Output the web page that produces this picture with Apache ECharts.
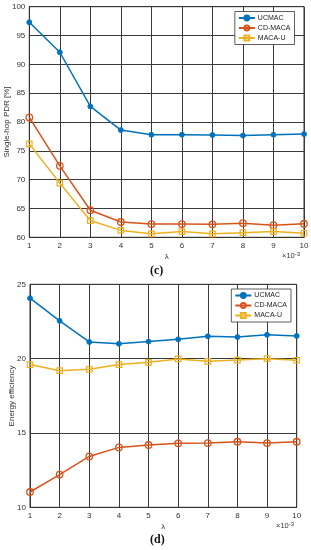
<!DOCTYPE html>
<html><head><meta charset="utf-8">
<script src="https://cdn.jsdelivr.net/npm/echarts@6/dist/echarts.min.js"></script>
<style>html,body{margin:0;padding:0;background:#fff}#c{width:311px;height:550px}</style>
</head><body><div id="c"></div>
<script>
const lambdas = [1,2,3,4,5,6,7,8,9,10];
const seriesNames = ['UCMAC','CD-MACA','MACA-U'];
const pdrUCMAC = [97.3,92.1,82.7,78.6,77.8,77.8,77.75,77.65,77.8,77.9];
const pdrCDMACA = [80.8,72.4,64.7,62.65,62.3,62.3,62.25,62.45,62.1,62.35];
const pdrMACAU = [76.2,69.4,62.9,61.2,60.6,61.0,60.6,60.8,61.0,60.7];
const eeUCMAC = [24.07,22.54,21.12,21.0,21.15,21.3,21.5,21.45,21.6,21.53];
const eeCDMACA = [11.03,12.2,13.42,14.03,14.19,14.3,14.32,14.41,14.32,14.41];
const eeMACAU = [19.6,19.19,19.28,19.6,19.75,19.98,19.82,19.9,20.0,19.89];
const pdrTicks = [60,65,70,75,80,85,90,95,100];
const eeTicks = [10,15,20,25];

const colors = {'UCMAC':'#0072BD','CD-MACA':'#D95319','MACA-U':'#EDB120'};
const font = 'Liberation Sans, Arial, sans-serif';

function pair(arr){ return lambdas.map((x,i)=>[x,arr[i]]); }
function mk(name, data, idx){
  const c = colors[name];
  const base = {name, type:'line', xAxisIndex:idx, yAxisIndex:idx, data:pair(data),
    lineStyle:{color:c,width:1.5}, emphasis:{disabled:true}, animation:false, z:3};
  if(name==='UCMAC'){
    return Object.assign(base,{symbol:'circle',symbolSize:5,itemStyle:{color:c,borderColor:c,borderWidth:0.8}});
  } else if(name==='CD-MACA'){
    return Object.assign(base,{symbol:'circle',symbolSize:6.5,itemStyle:{color:'rgba(255,255,255,0)',borderColor:c,borderWidth:1.3}});
  } else {
    return Object.assign(base,{symbol:'rect',symbolSize:5.5,itemStyle:{color:'rgba(255,255,255,0)',borderColor:c,borderWidth:1.2}});
  }
}
function xAx(idx){
  return {type:'value', gridIndex:idx, min:1, max:10, interval:1,
    name:'λ', nameLocation:'middle', nameGap:15, nameTextStyle:{fontSize:8,color:'#333',fontFamily:font},
    axisLine:{show:true,lineStyle:{color:'#333',width:1}}, axisTick:{show:false},
    axisLabel:{fontSize:8,color:'#333',margin:4,fontFamily:font},
    splitLine:{show:true,lineStyle:{color:'#3a3a3a',width:1}}};
}
function yAx(idx,min,max){
  return {type:'value', gridIndex:idx, min, max, interval:5,
    axisLine:{show:true,lineStyle:{color:'#333',width:1}}, axisTick:{show:false},
    axisLabel:{fontSize:8,color:'#333',margin:4,fontFamily:font},
    splitLine:{show:true,lineStyle:{color:'#3a3a3a',width:1}}};
}
function lg(top,right){
  return {orient:'vertical', top, right, data:seriesNames, itemWidth:16, itemHeight:6, itemGap:3,
    padding:[3,4,3,3], backgroundColor:'#fff', borderColor:'#333', borderWidth:0.8, borderRadius:0,
    textStyle:{fontSize:7,color:'#222',fontFamily:font,padding:[0,0,0,-2]}, selectedMode:false};
}
function yName(text,x,y){
  return {type:'text', x, y, rotation:Math.PI/2,
    style:{text, fontSize:8, fill:'#333', fontFamily:font, align:'center', verticalAlign:'middle'}};
}
const chart = echarts.init(document.getElementById('c'));
chart.setOption({
  backgroundColor:'#fff',
  animation:false,
  grid:[
    {left:29.3, right:7, top:6.7, height:230.6, show:true, borderColor:'#333', borderWidth:1, outerBoundsMode:'none', containLabel:false},
    {left:30, right:14.3, top:284.3, height:223, show:true, borderColor:'#333', borderWidth:1, outerBoundsMode:'none', containLabel:false}
  ],
  xAxis:[xAx(0), xAx(1)],
  yAxis:[yAx(0,60,100), yAx(1,10,25)],
  legend:[lg(11.5,16.5), lg(289,20)],
  series:[
    mk('UCMAC',pdrUCMAC,0), mk('CD-MACA',pdrCDMACA,0), mk('MACA-U',pdrMACAU,0),
    mk('UCMAC',eeUCMAC,1), mk('CD-MACA',eeCDMACA,1), mk('MACA-U',eeMACAU,1)
  ],
  graphic:[
    yName('Single-hop PDR [%]',7,122),
    yName('Energy efficiency',12,396),
    {type:'text', left:282, top:251, style:{text:'×10{s|-3}', rich:{s:{fontSize:6,verticalAlign:'top',padding:[0,0,4,0],fill:'#333'}}, fontSize:7.5, fill:'#333', fontFamily:font}},
    {type:'text', left:276, top:521, style:{text:'×10{s|-3}', rich:{s:{fontSize:6,verticalAlign:'top',padding:[0,0,4,0],fill:'#333'}}, fontSize:7.5, fill:'#333', fontFamily:font}},
    {type:'text', left:150, top:265, style:{text:'(c)', fontSize:12, fontWeight:'bold', fill:'#111', fontFamily:'Liberation Serif, serif'}},
    {type:'text', left:150, top:534, style:{text:'(d)', fontSize:12, fontWeight:'bold', fill:'#111', fontFamily:'Liberation Serif, serif'}}
  ]
});
</script></body></html>
